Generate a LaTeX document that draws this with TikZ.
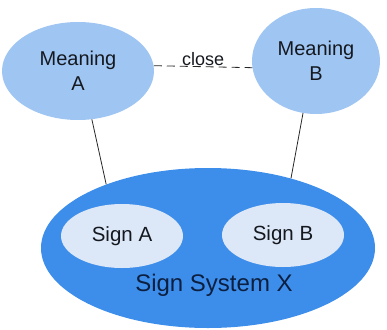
\documentclass[tikz,border=0pt]{standalone}
\usepackage{fontspec}
\setmainfont{Liberation Sans}
\usetikzlibrary{shapes.geometric}
\definecolor{meaningfill}{HTML}{9FC5F3}
\definecolor{systemfill}{HTML}{3D8EEA}
\definecolor{signfill}{HTML}{DCE7F7}
\definecolor{textdark}{HTML}{15191F}
\definecolor{navytext}{HTML}{0C1F40}
\begin{document}
\begin{tikzpicture}[x=1pt,y=-1pt,
  meaning/.style={ellipse, fill=meaningfill, inner sep=0pt, align=center,
    font=\fontsize{20}{25}\selectfont, text=textdark},
  signnode/.style={ellipse, fill=signfill, inner sep=0pt, minimum width=122pt, minimum height=64pt,
    font=\fontsize{20.5}{25}\selectfont, text=textdark},
  link/.style={draw=black!85, line width=0.8pt}]
\useasboundingbox (0,0) rectangle (387,329);
\node[meaning, minimum width=152pt, minimum height=98pt] (mA) at (78,71) {Meaning\\A};
\node[meaning, minimum width=128pt, minimum height=106pt] (mB) at (316,61) {Meaning\\B};
\node[ellipse, fill=systemfill, inner sep=0pt, minimum width=334pt, minimum height=160pt] (sys) at (208,248) {};
\node[signnode] (sA) at (122,236) {Sign A};
\node[signnode] (sB) at (283,235) {Sign B};
\node[font=\fontsize{24}{28}\selectfont, text=navytext] (sysl) at (214,285) {Sign System X};
\draw[link, dash pattern=on 8pt off 5pt] (mA.4) -- (mB.186) node[midway, anchor=base, yshift=1.5pt, inner sep=0pt, font=\fontsize{18}{20}\selectfont, text=textdark] (cl) {close};
\draw[link] (mA.-74) -- (sys.148);
\draw[link] (mB.-104) -- (sys.40.5);
\end{tikzpicture}
\end{document}
